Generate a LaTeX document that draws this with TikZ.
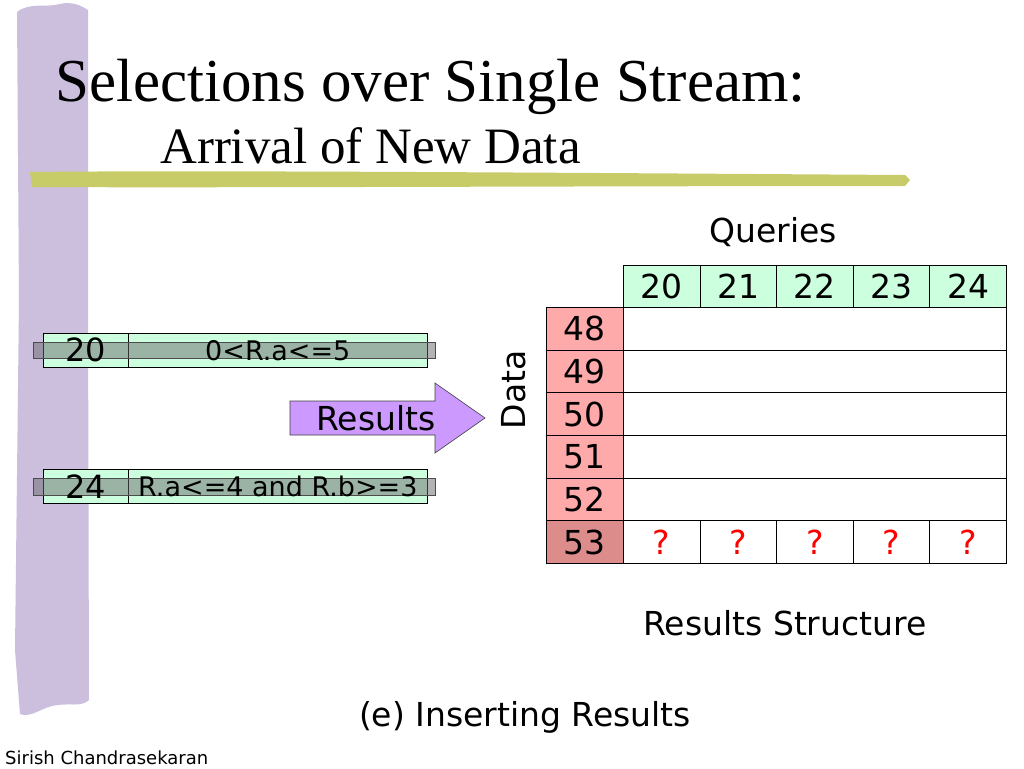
\documentclass[tikz,border=0pt]{standalone}
\usepackage{fontspec}
\setmainfont{Liberation Serif}
\newfontfamily\comic{DejaVu Sans}
\definecolor{barpurple}{HTML}{CBBFDD}
\definecolor{barolive}{HTML}{C8CC68}
\definecolor{qgreen}{HTML}{CCFFDD}
\definecolor{dpink}{HTML}{FFAAAA}
\definecolor{dpinkdark}{HTML}{DD8C8C}
\definecolor{arrowviolet}{HTML}{CC99FF}
\definecolor{overlaygray}{RGB}{105,105,110}
\begin{document}
\begin{tikzpicture}[x=1pt,y=-1pt,
  txt/.style={font=\comic\fontsize{33}{36}\selectfont, inner sep=0pt},
  cell/.style={draw=black, line width=0.8pt, anchor=north west, inner sep=0pt, font=\comic\fontsize{33}{36}\selectfont},
  qcell/.style={cell, fill=qgreen, minimum width=76.6pt, minimum height=42pt},
  dcell/.style={cell, fill=dpink, minimum width=77pt, minimum height=42.67pt},
  wrow/.style={cell, fill=white, minimum width=383pt, minimum height=42.67pt},
  rcell/.style={cell, fill=white, minimum width=76.6pt, minimum height=42.67pt, text=red},
  pbox/.style={draw=black, line width=0.6pt, fill=qgreen, anchor=north west, inner sep=0pt},
  gbar/.style={draw=black!70, line width=0.6pt, fill=overlaygray, fill opacity=0.5},
  ptxt/.style={font=\comic\fontsize{27}{30}\selectfont, inner sep=0pt},
  idtxt/.style={font=\comic\fontsize{32}{34}\selectfont, inner sep=0pt}
]
\useasboundingbox (0,0) rectangle (1024,768);
\fill[white] (0,0) rectangle (1024,768);
% purple side bar
\fill[barpurple] (17,12) .. controls (30,2) and (45,8) .. (60,4) .. controls (72,1) and (82,6) .. (88,10)
  -- (88,300) -- (89,700) .. controls (80,708) and (70,702) .. (52,706) .. controls (40,709) and (30,718) .. (20,714)
  -- (15,650) -- (19,300) -- cycle;
% olive bar
\fill[barolive] (30,172) .. controls (200,170) and (600,173) .. (905,175) -- (910,180) -- (905,186)
  .. controls (600,186) and (200,188) .. (32,187) -- cycle;
% title
\node[anchor=base west, inner sep=0pt, font=\fontsize{61}{70}\selectfont] (title) at (55,101) {Selections over Single Stream:};
\node[anchor=base west, inner sep=0pt, font=\fontsize{51}{60}\selectfont] (subtitle) at (160,163) {Arrival of New Data};
% predicate boxes
\node[pbox, minimum width=85pt, minimum height=34pt] (p1id) at (43,333) {};
\node[pbox, minimum width=299pt, minimum height=34pt] (p1pr) at (128,333) {};
\draw[gbar] (33,342) rectangle (435,358);
\node[idtxt] (p1a) at (p1id.center) {20};
\node[ptxt] (p1b) at (p1pr.center) {0<R.a<=5};
\node[pbox, minimum width=85pt, minimum height=34pt] (p2id) at (43,469) {};
\node[pbox, minimum width=299pt, minimum height=34pt] (p2pr) at (128,469) {};
\draw[gbar] (33,478) rectangle (435,495);
\node[idtxt] (p2a) at (p2id.center) {24};
\node[ptxt] (p2b) at (p2pr.center) {R.a<=4 and R.b>=3};
% results arrow
\draw[fill=arrowviolet, draw=black!75, line width=0.6pt] (290,401) -- (435,401) -- (435,383) -- (485,418) -- (435,453) -- (435,435) -- (290,435) -- cycle;
\node[txt] (restxt) at (376,418) {Results};
% labels
\node[txt] (queries) at (773,232) {Queries};
\node[txt, rotate=90] (datalbl) at (514,390) {Data};
% header
\foreach \q [count=\i from 0] in {20,21,22,23,24} {
  \node[qcell] (q\q) at ({623+76.6*\i},265) {\q};
}
% data rows
\foreach \d [count=\j from 0] in {48,49,50,51,52} {
  \node[dcell] (d\d) at (546,{307+42.67*\j}) {\d};
  \node[wrow] (w\d) at (623,{307+42.67*\j}) {};
}
\node[dcell, fill=dpinkdark] (d53) at (546,520.35) {53};
\foreach \q [count=\i from 0] in {20,21,22,23,24} {
  \node[rcell] (r\q) at ({623+76.6*\i},520.35) {?};
}
\node[txt] (rs) at (785,623) {Results Structure};
\node[txt] (caption) at (525,717) {(e) Inserting Results};
\node[anchor=base west, inner sep=0pt, font=\comic\fontsize{18}{20}\selectfont] (author) at (5,764) {Sirish Chandrasekaran};
\end{tikzpicture}
\end{document}
